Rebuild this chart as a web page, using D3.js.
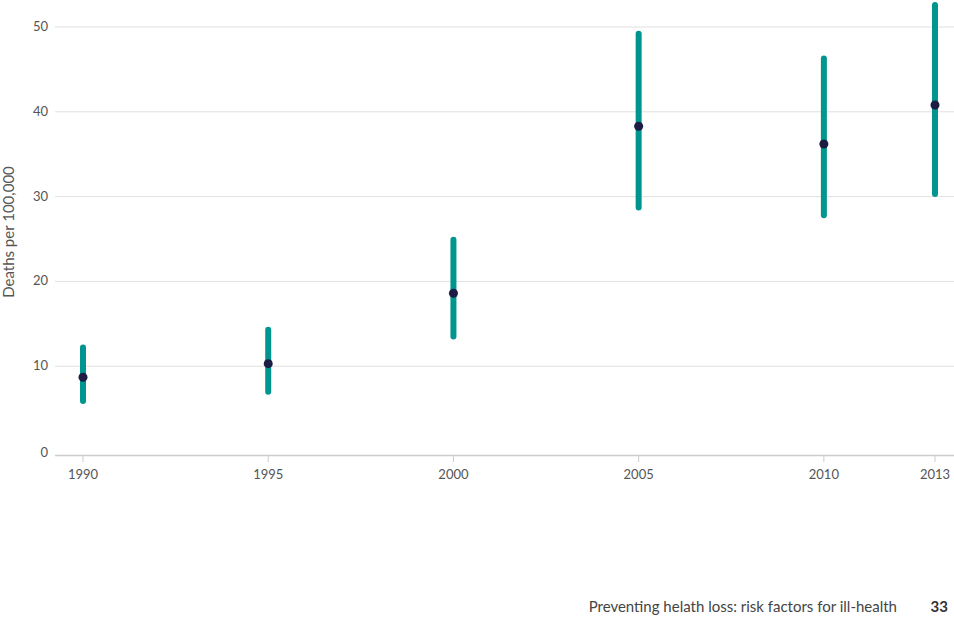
<!DOCTYPE html>
<html><head><meta charset="utf-8">
<script src="https://cdn.jsdelivr.net/npm/d3@7"></script>
<style>body{margin:0;background:#fff}text{font-family:Lato,"Open Sans",sans-serif}</style>
</head><body><svg id="c" width="954" height="617"></svg>
<script>
const years = [1990, 1995, 2000, 2005, 2010, 2013];
const lower = [5.9, 7.0, 13.5, 28.7, 27.8, 30.3];
const upper = [12.2, 14.3, 24.9, 49.2, 46.3, 52.6];
const mean = [8.7, 10.3, 18.6, 38.3, 36.2, 40.8];
const yTicks = [0, 10, 20, 30, 40, 50];

const svg = d3.select('#c');
const x = d3.scaleLinear().domain([1990, 2013]).range([83, 935]);
const y = d3.scaleLinear().domain([0, 50]).range([451, 27]);

// gridlines
svg.append('g').selectAll('line').data(yTicks.slice(1)).enter().append('line')
    .attr('x1', 55).attr('x2', 954).attr('y1', d => y(d)).attr('y2', d => y(d))
    .attr('stroke', '#e0e0e0');
svg.append('g').selectAll('text').data(yTicks).enter().append('text')
    .attr('x', 48).attr('y', d => d === 0 ? 457 : y(d) + 4).attr('text-anchor', 'end')
    .attr('font-size', 13).attr('fill', '#555').text(d => d);

// x axis
svg.append('line').attr('x1', 55).attr('x2', 954).attr('y1', 455.5).attr('y2', 455.5)
    .attr('stroke', '#ccc').attr('stroke-width', 1.5);
svg.append('g').selectAll('line').data(years).enter().append('line')
    .attr('x1', d => x(d)).attr('x2', d => x(d)).attr('y1', 456).attr('y2', 462)
    .attr('stroke', '#ccc');
svg.append('g').selectAll('text').data(years).enter().append('text')
    .attr('x', d => x(d)).attr('y', 479).attr('text-anchor', 'middle')
    .attr('font-size', 13).attr('fill', '#555').text(d => d);

svg.append('text').attr('transform', 'translate(14,232) rotate(-90)')
    .attr('text-anchor', 'middle').attr('font-size', 15).attr('fill', '#555')
    .text('Deaths per 100,000');

// ranges
svg.append('g').selectAll('line').data(years).enter().append('line')
    .attr('x1', d => x(d)).attr('x2', d => x(d))
    .attr('y1', (d, i) => y(upper[i])).attr('y2', (d, i) => y(lower[i]))
    .attr('stroke', '#00968f').attr('stroke-width', 6).attr('stroke-linecap', 'round');
svg.append('g').selectAll('circle').data(years).enter().append('circle')
    .attr('cx', d => x(d)).attr('cy', (d, i) => y(mean[i])).attr('r', 4.5)
    .attr('fill', '#1c1c44');

// footer
svg.append('text').attr('x', 897).attr('y', 612).attr('text-anchor', 'end')
    .attr('font-size', 15).attr('fill', '#444').text('Preventing helath loss: risk factors for ill-health');
svg.append('text').attr('x', 948).attr('y', 612).attr('text-anchor', 'end')
    .attr('font-size', 15).attr('font-weight', 'bold').attr('fill', '#333').text('33');
</script></body></html>
